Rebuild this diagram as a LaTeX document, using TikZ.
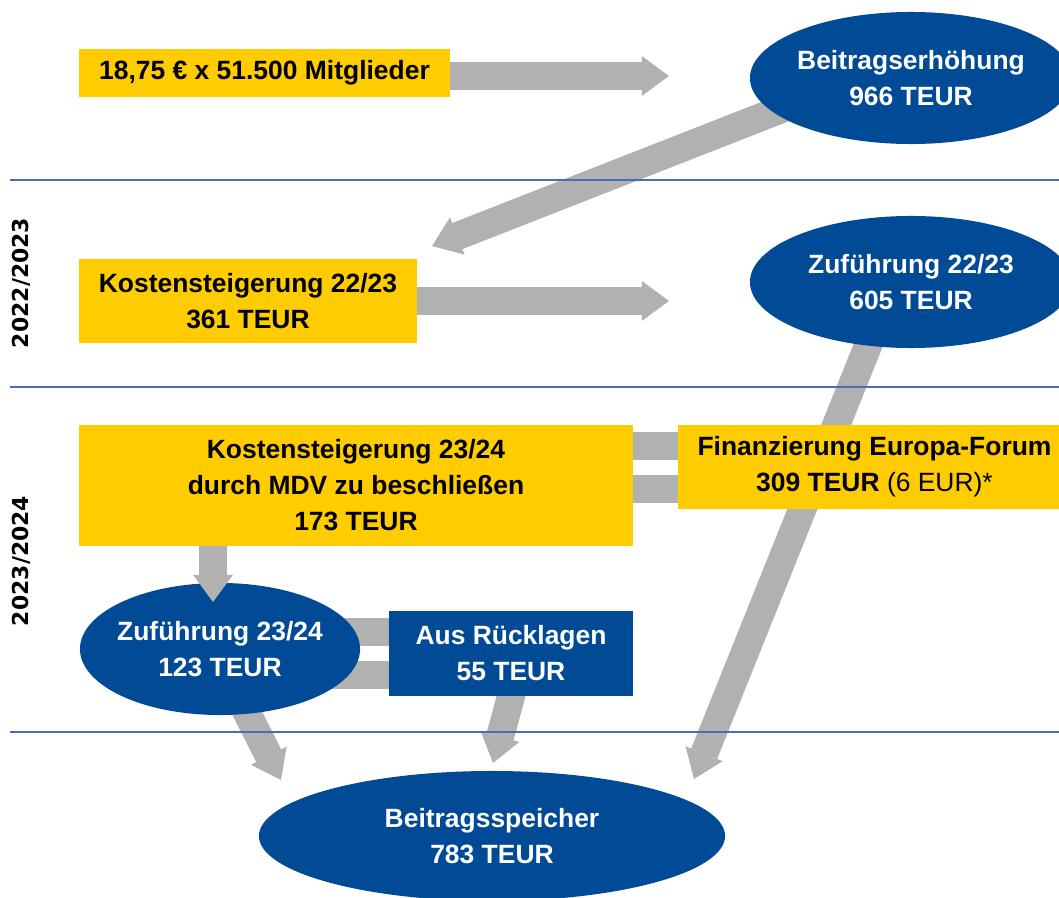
\documentclass[tikz,border=0pt]{standalone}
\usepackage{fontspec}
\setmainfont{Liberation Sans}
\newfontfamily\yearfont{DejaVu Sans}
\usetikzlibrary{shapes.geometric,arrows.meta,backgrounds}
\definecolor{gelb}{HTML}{FFCC00}
\definecolor{dblau}{HTML}{004A96}
\definecolor{grau}{HTML}{B1B1B1}
\definecolor{linie}{HTML}{3F72B6}
\begin{document}
\begin{tikzpicture}[x=0.025cm, y=-0.025cm,
    every node/.style={font=\fontsize{18.8}{25.6}\selectfont\bfseries, align=center, inner sep=0pt},
    gelbbox/.style={rectangle, fill=gelb, text=black},
    blaubox/.style={rectangle, fill=dblau, text=white},
    blauoval/.style={ellipse, fill=dblau, text=white, inner sep=-0.2cm},
    flow/.style={draw=grau, line width=0.7cm, -{Triangle[width=1cm,length=0.68cm,line width=0pt]}},
    linkbar/.style={draw=grau, line width=0.7cm},
    jahr/.style={rotate=90, font=\yearfont\fontsize{15.6}{18}\selectfont\bfseries},
    trenner/.style={draw=linie, line width=0.05cm}]
    \path[use as bounding box] (0,0) rectangle (1059,898);

    % Jahre
    \node[jahr] (j22) at (21,283) {2022/2023};
    \node[jahr] (j24) at (21,561) {2023/2024};

    \node[gelbbox, minimum width=9.275cm, minimum height=1.2cm] (mitgl) at (264.5,73) {18,75 € x 51.500 Mitglieder};
    \node[blauoval, minimum width=8.05cm, minimum height=3.3cm] (erhoeh) at (911,78) {Beitragserhöhung\\966 TEUR};
    \node[gelbbox, minimum width=8.45cm, minimum height=2.1cm] (kost22) at (248,301) {Kostensteigerung 22/23\\361 TEUR};
    \node[blauoval, minimum width=8.05cm, minimum height=3.3cm] (zuf22) at (911,282) {Zuführung 22/23\\605 TEUR};
    \node[gelbbox, minimum width=13.85cm, minimum height=3.025cm] (kost24) at (356,485.5) {Kostensteigerung 23/24\\durch MDV zu beschließen\\173 TEUR};
    \node[gelbbox, minimum width=9.825cm, minimum height=2.1cm] (forum) at (874.5,467) {Finanzierung Europa-Forum\\309 TEUR {\mdseries(6 EUR)*}};
    \node[blauoval, minimum width=7cm, minimum height=3.3cm] (zuf24) at (220,649) {Zuführung 23/24\\123 TEUR};
    \node[blaubox, minimum width=6.1cm, minimum height=2.125cm] (rueck) at (511,653.5) {Aus Rücklagen\\55 TEUR};
    \node[blauoval, minimum width=11.65cm, minimum height=3.25cm] (speicher) at (492,836) {Beitragsspeicher\\783 TEUR};

    % Pfeilspitzen
    \coordinate (e1) at (669,76);
    \coordinate (e2) at (432,246);
    \coordinate (e3) at (669,301);
    \coordinate (e4) at (694,779);
    \coordinate (e5) at (213,602);
    \coordinate (e6) at (281,780);
    \coordinate (e7) at (493,763);
    \coordinate (b1) at ([yshift=-0.525cm]forum.north west);
    \coordinate (b2) at ([yshift=0.5cm]forum.south west);
    \coordinate (b3) at ([yshift=-0.525cm]rueck.north west);
    \coordinate (b4) at ([yshift=0.54cm]rueck.south west);

    \begin{scope}[on background layer]
    \draw[flow, shorten <=-0.4cm] (mitgl.east |- e1) -- (e1);
    \draw[flow, shorten <=-0.4cm] (erhoeh.194) -- (e2);
    \draw[flow, shorten <=-0.4cm] (kost22.east) -- (e3);
    \draw[flow, shorten <=-0.4cm] (zuf22.236) -- (e4);
    \draw[flow, shorten <=-0.4cm] (zuf24.293) -- (e6);
    \draw[flow, shorten <=-0.4cm] (rueck.south) -- (e7);
    \draw[linkbar] (b1) -- (b1 -| kost24.east);
    \draw[linkbar] (b2) -- (b2 -| kost24.east);
    \draw[linkbar] (b3) -- (b3 -| zuf24.center);
    \draw[linkbar] (b4) -- (b4 -| zuf24.center);
    % Trennlinien
    \foreach \y in {180,387,732}
        \draw[trenner] (10,\y) -- (1059,\y);
    \end{scope}
    \draw[flow] (kost24.south -| e5) -- (e5);
\end{tikzpicture}
\end{document}
